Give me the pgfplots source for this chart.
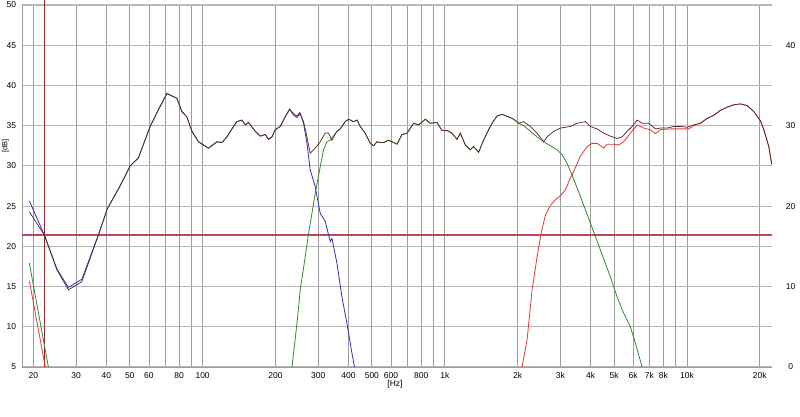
\documentclass[border=0pt]{standalone}
\usepackage{pgfplots}
\usepackage{pgfplotstable}
\pgfplotsset{compat=1.18}
\usepackage{fontspec}
\setmainfont{Liberation Sans}
\definecolor{gridv}{HTML}{9C9C9C}
\definecolor{gridh}{HTML}{B8B8B8}
\definecolor{totc}{HTML}{5A2A2A}
\definecolor{wooc}{HTML}{3030B8}
\definecolor{midc}{HTML}{2E8A2E}
\definecolor{twec}{HTML}{E03838}
\definecolor{hlinecol}{RGB}{190,72,88}
\definecolor{vlc}{HTML}{8A2A2A}
\pgfplotstableread{
f db
18 21.4
22400 21.4
}\reflinetab
\begin{document}
\begin{tikzpicture}
\path[use as bounding box] (-22.3pt,-49pt) rectangle (777.7pt,367pt);
\begin{axis}[
  at={(0pt,0pt)}, anchor=south west,
  scale only axis, width=749.4pt, height=362pt,
  xmode=log, xmin=18, xmax=22400, ymin=5, ymax=50,
  clip=false,
  axis x line*=bottom, axis y line*=left,
  axis line style={draw=gridv, line width=0.8pt, -},
  xtick={20,30,40,50,60,70,80,90,100,200,300,400,500,600,700,800,900,1000,2000,3000,4000,5000,6000,7000,8000,9000,10000,20000},
  xticklabels={20,30,40,50,60,,80,,100,200,300,400,500,600,,800,,1k,2k,3k,4k,5k,6k,7k,8k,,10k,20k},
  ytick={5,10,15,20,25,30,35,40,45,50},
  xmajorgrids, ymajorgrids,
  major x grid style={draw=gridv, line width=0.8pt},
  major y grid style={draw=gridh, line width=1.2pt},
  major tick length=0pt, minor tick length=0pt,
  tick label style={font=\fontsize{8.5}{10}\selectfont, /pgf/number format/assume math mode=true},
  xticklabel style={anchor=north, inner sep=0pt, yshift=-5pt},
  yticklabel style={anchor=east, inner sep=0pt, xshift=-6pt},
  xlabel={[Hz]},
  xlabel style={at={(axis description cs:0.4973,0)}, anchor=center, yshift=-17pt, font=\fontsize{8.5}{10}\selectfont},
  ylabel={[dB]},
  ylabel style={at={(axis description cs:-0.0225,0.61)}, anchor=center, inner sep=0pt, font=\fontsize{7.5}{9}\selectfont},
]
% horizontal and vertical markers
\addplot[color=hlinecol, line width=1.35pt, no marks] table[x=f, y=db] {\reflinetab};
\addplot[color=vlc, line width=1.3pt, no marks] coordinates {(22.2,5) (22.2,50.6)};
% woofer (blue)
\addplot[wooc, line width=0.8pt] coordinates {
(19.25,25.65) (22.21,21.4) (25.0,17.2) (27.9,14.9) (31.7,15.9) (37.1,21.4)
(40.45,24.7) (45.6,27.5) (50.2,30.0) (54.3,31.0) (60.7,34.9) (65.7,37.0)
(71.2,39.0) (78.3,38.4) (82.1,36.75) (86.1,36.1) (90.3,34.3) (96.1,33.0)
(105.7,32.2) (114.5,33.0) (120.1,32.9) (126.0,33.6) (134.1,34.9) (138.5,35.5)
(145.3,35.7) (150.0,35.1) (154.7,35.4) (164.9,34.3) (172.9,33.7) (181.3,33.9)
(187.2,33.3) (193.3,33.6) (199.5,34.5) (209.2,34.9) (219.4,36.1) (228.6,37.05)
(237.4,36.3) (245.2,36.0) (253.0,36.55) (261.1,35.3) (269.7,32.8) (278.2,29.5)
(291.8,27.4) (306.0,24.1) (321.0,23.1) (336.6,20.6) (342.0,21.0) (358.7,17.9)
(376.2,13.7) (394.6,10.4) (413.8,6.7) (424,5.0)
};
% midrange (green)
\addplot[midc, line width=0.8pt] coordinates {(19.25,17.9) (23.07,5.0)};
\addplot[midc, line width=0.8pt] coordinates {
(233.9,5.0) (245.2,10.4) (253.0,14.6) (265.3,18.7) (273.8,21.6) (282.8,24.1)
(291.8,26.6) (306.0,29.9) (315.8,32.0) (326.2,33.0) (336.6,33.2) (358.7,34.3)
(370.2,34.6) (388.2,35.5) (400.6,35.8) (420.1,35.5) (434.0,35.7) (447.8,34.9)
(469.6,34.06) (492.5,32.8) (508.2,32.5) (524.8,33.0) (541.6,32.9) (558.9,32.9)
(586.1,33.2) (634.9,32.7) (665.9,33.9) (698.3,34.06) (743.5,35.3) (779.7,35.1)
(831.0,35.8) (871.6,35.3) (928.9,35.4) (974.1,34.4) (1021.6,34.4) (1071.5,34.06)
(1123.7,33.3) (1159.6,34.06) (1216,32.6) (1275,32.0) (1316,32.4) (1380,31.7)
(1447,33.2) (1518,34.5) (1568,35.3) (1644,36.2) (1724,36.4) (1836,36.1)
(1925,35.8) (2019,35.3) (2118,35.0) (2257,34.3) (2406,33.6) (2562,33.0)
(2730,32.5) (2910,32.0) (3052,31.4) (3200,30.3) (3302,29.4) (3632,26.2)
(3995,22.9) (4393,19.55) (4831,16.2) (5150,13.7) (5483,11.7) (5843,10.0)
(6128,7.95) (6533,5.0)
};
% tweeter (red)
\addplot[twec, line width=0.8pt] coordinates {(19.25,15.7) (22.4,5.0)};
\addplot[twec, line width=0.8pt] coordinates {
(2086,5.0) (2188,8.4) (2294,14.6) (2406,18.7) (2499,21.6) (2604,23.9)
(2731,25.1) (2864,25.8) (3003,26.3) (3149,27.0) (3302,28.5) (3408,29.3)
(3632,31.2) (3871,32.4) (4060,32.8) (4257,32.8) (4533,32.2) (4682,32.7)
(4986,32.7) (5229,32.6) (5483,33.0) (5843,34.06) (6228,35.1) (6633,34.7)
(7069,34.5) (7413,34.0) (7775,34.5) (8551,34.6) (9405,34.6) (10178,34.6)
(10674,35.0) (11376,35.3) (12126,35.9) (12912,36.3) (13764,36.9) (14666,37.3)
(15619,37.6) (16646,37.7) (17742,37.5) (18894,36.75) (20134,35.6) (20776,34.5)
(21790,32.4) (22400,30.2)
};
% total (dark)
\addplot[totc, line width=0.75pt] coordinates {
(19.25,24.3) (22.21,21.4) (25.0,17.1) (27.9,14.6) (31.7,15.6) (37.1,21.4)
(40.45,24.7) (45.6,27.5) (50.2,30.0) (54.3,31.0) (60.7,34.9) (65.7,37.0)
(71.2,39.0) (78.3,38.4) (82.1,36.75) (86.1,36.1) (90.3,34.3) (96.1,33.0)
(105.7,32.2) (114.5,33.0) (120.1,32.9) (126.0,33.6) (134.1,34.9) (138.5,35.5)
(145.3,35.7) (150.0,35.1) (154.7,35.4) (164.9,34.3) (172.9,33.7) (181.3,33.9)
(187.2,33.3) (193.3,33.6) (199.5,34.5) (209.2,34.9) (219.4,36.1) (228.6,37.05)
(237.4,36.5) (245.2,36.2) (251.3,36.6) (261.1,35.5) (269.7,33.6) (278.2,31.6)
(291.8,32.2) (306.0,33.0) (321.0,34.1) (331.2,34.06) (342.0,33.2) (358.7,34.3)
(370.2,34.6) (388.2,35.5) (400.6,35.8) (420.1,35.5) (434.0,35.7) (447.8,34.9)
(469.6,34.06) (492.5,32.8) (508.2,32.5) (524.8,33.0) (541.6,32.9) (558.9,32.9)
(586.1,33.2) (634.9,32.7) (665.9,33.9) (698.3,34.06) (743.5,35.3) (779.7,35.1)
(831.0,35.8) (871.6,35.3) (928.9,35.4) (974.1,34.4) (1021.6,34.4) (1071.5,34.06)
(1123.7,33.3) (1159.6,34.06) (1216,32.6) (1275,32.0) (1316,32.4) (1380,31.7)
(1447,33.2) (1518,34.5) (1568,35.3) (1644,36.2) (1724,36.4) (1836,36.1)
(1925,35.8) (2019,35.3) (2118,35.5) (2257,34.9) (2406,34.06) (2562,33.0)
(2646,33.6) (2818,34.3) (3003,34.7) (3302,34.9) (3520,35.3) (3809,35.5)
(3995,34.9) (4257,34.6) (4533,34.06) (4831,33.7) (5150,33.4) (5401,33.6)
(5663,34.3) (5939,34.9) (6228,35.7) (6533,35.3) (6955,35.3) (7413,34.6)
(7775,34.7) (8288,34.7) (8825,34.9) (9405,34.9) (10024,34.8) (10674,35.1)
(11376,35.3) (12126,35.9) (12912,36.3) (13764,36.9) (14666,37.3) (15619,37.6)
(16646,37.7) (17742,37.5) (18894,36.75) (20134,35.6) (20776,34.5) (21790,32.4)
(22400,30.2)
};
\end{axis}
\begin{axis}[
  at={(0pt,0pt)}, anchor=south west,
  scale only axis, width=749.4pt, height=362pt,
  xmode=log, xmin=18, xmax=22400, ymin=0, ymax=45,
  hide x axis,
  axis y line*=right,
  axis line style={draw=none},
  ytick={0,10,20,30,40},
  major tick length=0pt, minor tick length=0pt,
  tick label style={font=\fontsize{8.5}{10}\selectfont, /pgf/number format/assume math mode=true},
  yticklabel style={anchor=center, inner sep=0pt, xshift=19pt},
]
\addplot[draw=none] coordinates {(100,0)};
\end{axis}
\end{tikzpicture}
\end{document}
